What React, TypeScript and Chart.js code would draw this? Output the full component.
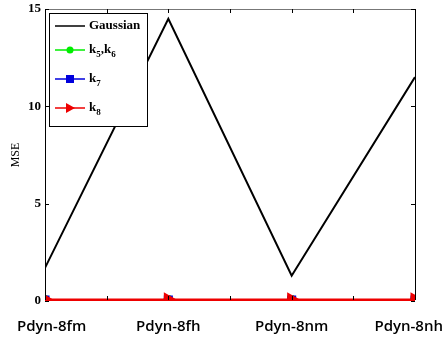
import React, { useEffect, useRef } from "react";
import { Chart, registerables } from "chart.js";

Chart.register(...registerables);

const categories = ["Pdyn-8fm", "Pdyn-8fh", "Pdyn-8nm", "Pdyn-8nh"];
const gaussian = [1.7, 14.5, 1.3, 11.5];
const k5k6 = [0.05, 0.05, 0.05, 0.05];
const k7 = [0.05, 0.05, 0.05, 0.05];
const k8 = [0.05, 0.05, 0.05, 0.05];
const yTicks = [0, 5, 10, 15];

const toPts = (arr: number[]) => arr.map((y, i) => ({ x: i + 1, y }));

const framePlugin = {
  id: "frame",
  afterDatasetsDraw(chart: any) {
    const { ctx, chartArea: a, scales, width } = chart;
    ctx.save();
    ctx.strokeStyle = "#000";
    ctx.lineWidth = 1;
    ctx.beginPath();
    ctx.moveTo(a.left + 0.5, a.top + 0.5);
    ctx.lineTo(a.left + 0.5, a.bottom - 1);
    ctx.moveTo(a.right + 0.5, a.bottom - 1);
    ctx.lineTo(a.right + 0.5, a.top + 0.5);
    ctx.stroke();
    ctx.strokeStyle = "#777";
    ctx.beginPath();
    ctx.moveTo(a.left + 0.5, a.top + 0.5);
    ctx.lineTo(a.right + 0.5, a.top + 0.5);
    ctx.stroke();
    ctx.strokeStyle = "#000";
    const tl = 4;
    scales.x.ticks.forEach((t: any) => {
      const px = Math.round(scales.x.getPixelForValue(t.value)) + 0.5;
      ctx.beginPath();
      ctx.moveTo(px, a.bottom - 1);
      ctx.lineTo(px, a.bottom - tl - 1);
      ctx.moveTo(px, a.top);
      ctx.lineTo(px, a.top + tl);
      ctx.stroke();
    });
    scales.y.ticks.forEach((t: any) => {
      const py = Math.round(scales.y.getPixelForValue(t.value)) + 0.5;
      ctx.beginPath();
      ctx.moveTo(a.left, py);
      ctx.lineTo(a.left + tl, py);
      ctx.moveTo(a.right, py);
      ctx.lineTo(a.right - tl, py);
      ctx.stroke();
    });
    // x category labels, kept inside the canvas
    ctx.font = "600 15px 'Open Sans'";
    ctx.fillStyle = "#000";
    ctx.textAlign = "center";
    ctx.textBaseline = "middle";
    categories.forEach((c, i) => {
      const w = ctx.measureText(c).width;
      let px = scales.x.getPixelForValue(i + 1);
      px = Math.max(px, 17 + w / 2);
      px = Math.min(px, width - 1 - w / 2);
      ctx.fillText(c, px, a.bottom + 26);
    });
    // legend
    const lx = a.left + 4;
    const ly = a.top + 4;
    const lw = 98;
    const lh = 113;
    ctx.textAlign = "left";
    ctx.fillStyle = "#fff";
    ctx.fillRect(lx, ly, lw, lh);
    ctx.strokeStyle = "#000";
    ctx.strokeRect(lx + 0.5, ly + 0.5, lw, lh);
    const items = [
      { color: "#000", marker: "none", main: ["Gaussian"], y: 26 },
      { color: "#00ee00", marker: "circle", main: ["k", "5", ",k", "6"], y: 50 },
      { color: "#0000dd", marker: "rect", main: ["k", "7"], y: 79 },
      { color: "#ee0000", marker: "triangle", main: ["k", "8"], y: 108 },
    ];
    items.forEach((it) => {
      const yy = it.y;
      ctx.strokeStyle = it.color;
      ctx.lineWidth = 1.5;
      ctx.beginPath();
      ctx.moveTo(55, yy);
      ctx.lineTo(85, yy);
      ctx.stroke();
      ctx.fillStyle = it.color;
      if (it.marker === "circle") {
        ctx.beginPath();
        ctx.arc(70, yy, 3.5, 0, Math.PI * 2);
        ctx.fill();
      } else if (it.marker === "rect") {
        ctx.fillRect(66, yy - 4, 8, 8);
      } else if (it.marker === "triangle") {
        ctx.beginPath();
        ctx.moveTo(66, yy - 5);
        ctx.lineTo(75, yy);
        ctx.lineTo(66, yy + 5);
        ctx.closePath();
        ctx.fill();
      }
      ctx.fillStyle = "#000";
      ctx.textBaseline = "middle";
      let x = 89;
      it.main.forEach((s, i) => {
        const sub = i % 2 === 1;
        ctx.font = sub ? "bold 9px 'Liberation Serif'" : "bold 13px 'Liberation Serif'";
        ctx.fillText(s, x, sub ? yy + 5 : yy);
        x += ctx.measureText(s).width;
      });
    });
    ctx.save();
    ctx.translate(16, 155);
    ctx.rotate(-Math.PI / 2);
    ctx.font = "12px 'Liberation Serif'";
    ctx.textAlign = "center";
    ctx.textBaseline = "middle";
    ctx.fillStyle = "#000";
    ctx.fillText("MSE", 0, 0);
    ctx.restore();
    ctx.restore();
  },
};

export default function App() {
  const ref = useRef<HTMLCanvasElement | null>(null);
  useEffect(() => {
    if (!ref.current) return;
    const chart = new Chart(ref.current, {
      type: "line",
      data: {
        datasets: [
          {
            label: "Gaussian",
            data: toPts(gaussian),
            borderColor: "#000",
            borderWidth: 2,
            pointRadius: 0,
            order: 3,
          },
          {
            label: "k5,k6",
            data: toPts(k5k6),
            borderColor: "#00ee00",
            backgroundColor: "#00ee00",
            borderWidth: 2,
            pointRadius: 4,
            pointStyle: "circle",
            order: 2,
          },
          {
            label: "k7",
            data: toPts(k7),
            borderColor: "#0000dd",
            backgroundColor: "#0000dd",
            borderWidth: 2,
            pointRadius: 5,
            pointStyle: "rect",
            order: 1,
          },
          {
            label: "k8",
            data: toPts(k8),
            borderColor: "#ee0000",
            backgroundColor: "#ee0000",
            borderWidth: 3,
            pointRadius: 6,
            pointStyle: "triangle",
            rotation: 90,
            order: 0,
          },
        ],
      },
      options: {
        animation: false,
        responsive: false,
        maintainAspectRatio: false,
        layout: { padding: { left: 0, right: 29, top: 7, bottom: 0 } },
        plugins: { legend: { display: false }, tooltip: { enabled: false } },
        scales: {
          x: {
            type: "linear",
            min: 1,
            max: 4,
            grid: { display: false, drawTicks: false },
            border: { display: false },
            afterFit: (s: any) => {
              s.height = 36;
              s.paddingLeft = 0;
              s.paddingRight = 0;
            },
            ticks: {
              display: false,
              stepSize: 0.5,
              autoSkip: false,
            },
          },
          y: {
            min: 0,
            max: 15,
            grid: { display: false, drawTicks: false },
            border: { display: false },
            afterFit: (s: any) => {
              s.width = 45;
              s.paddingTop = 0;
              s.paddingBottom = 0;
            },
            afterBuildTicks: (s: any) => {
              s.ticks = yTicks.map((v) => ({ value: v }));
            },
            ticks: {
              padding: 4,
              color: "#000",
              font: { family: "'Liberation Serif'", size: 13, weight: "bold" },
            },
          },
        },
      },
      plugins: [framePlugin],
    });
    return () => chart.destroy();
  }, []);
  return (
    <div style={{ position: "fixed", left: 0, top: 0, width: 444, height: 337, background: "#fff" }}>
      <canvas ref={ref} width={444} height={337} style={{ width: 444, height: 337 }} />
    </div>
  );
}
